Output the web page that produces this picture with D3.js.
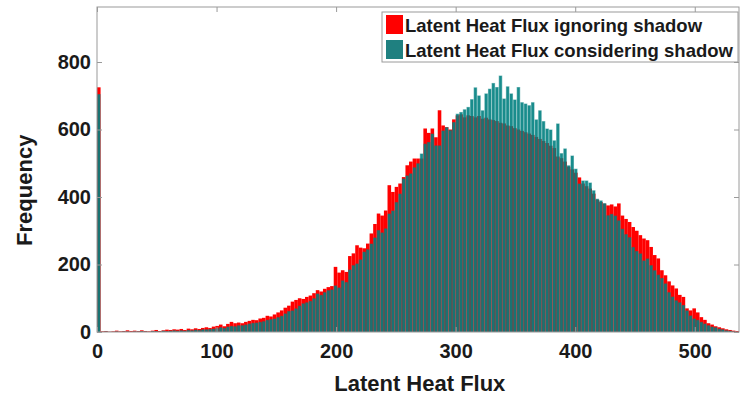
<!DOCTYPE html>
<html>
<head>
<meta charset="utf-8">
<script src="https://cdn.jsdelivr.net/npm/d3@7"></script>
<style>
  body { margin: 0; background: #fff; }
  text { font-family: "Liberation Sans", Arial, sans-serif; font-weight: bold; fill: #1a1a1a; }
</style>
</head>
<body>
<svg id="chart" width="751" height="399"></svg>
<script>
// histogram bins, 3 units wide starting at 0
const binWidth = 3;
const ignoringShadow = [
  725, 2, 3, 1, 2, 4, 2, 3, 5, 3,
  4, 3, 5, 3, 2, 4, 6, 3, 5, 7,
  6, 8, 7, 9, 6, 10, 8, 11, 9, 12,
  14, 12, 16, 18, 22, 17, 24, 30, 26, 28,
  26, 30, 33, 36, 35, 40, 42, 48, 46, 52,
  58, 64, 72, 78, 90, 95, 100, 98, 104, 108,
  115, 124, 120, 128, 133, 136, 193, 176, 183, 178,
  225, 233, 257, 250, 248, 262, 292, 320, 351, 345,
  360, 435, 415, 430, 440, 459, 494, 505, 514, 514,
  514, 603, 590, 603, 577, 657, 612, 607, 600, 630,
  642, 645, 636, 642, 640, 636, 640, 632, 635, 630,
  628, 625, 620, 618, 612, 610, 604, 600, 596, 592,
  588, 584, 578, 572, 566, 560, 552, 545, 520, 515,
  505, 490, 482, 472, 458, 440, 432, 425, 410, 392,
  385, 380, 375, 378, 372, 381, 345, 335, 326, 311,
  300, 287, 277, 272, 252, 228, 218, 183, 168, 150,
  138, 129, 110, 104, 70, 64, 70, 58, 44, 36,
  26, 22, 17, 14, 11, 8, 6, 4, 3
];
const consideringShadow = [
  705, 1, 2, 1, 1, 2, 1, 2, 2, 1,
  2, 2, 3, 2, 1, 3, 3, 2, 4, 3,
  4, 5, 4, 5, 4, 6, 5, 7, 6, 8,
  8, 9, 10, 11, 14, 12, 16, 18, 17, 20,
  20, 22, 25, 27, 28, 30, 32, 36, 38, 40,
  44, 48, 55, 62, 64, 70, 78, 85, 88, 92,
  100, 114, 110, 118, 124, 126, 138, 132, 153, 148,
  185, 198, 203, 215, 238, 245, 262, 280, 302, 295,
  307, 351, 360, 385, 410, 455, 464, 470, 488, 500,
  529, 558, 563, 588, 553, 553, 597, 607, 598, 622,
  647, 652, 660, 667, 690, 725, 701, 657, 707, 721,
  738, 726, 760, 692, 728, 707, 689, 726, 681, 677,
  672, 681, 630, 657, 625, 603, 600, 568, 618, 530,
  544, 494, 523, 484, 440, 449, 449, 443, 420, 395,
  390, 382, 346, 350, 345, 331, 306, 290, 281, 252,
  240, 233, 212, 218, 198, 183, 170, 160, 144, 118,
  105, 94, 88, 80, 64, 49, 40, 36, 30, 25,
  20, 16, 14, 10, 8, 5, 4, 2, 1
];
const seriesNames = ["Latent Heat Flux ignoring shadow", "Latent Heat Flux considering shadow"];
const xTicks = [0, 100, 200, 300, 400, 500];
const yTicks = [0, 200, 400, 600, 800];

const width = 751, height = 399;
const margin = { left: 97, right: 12, top: 7, bottom: 67 };
const innerW = width - margin.left - margin.right;
const innerH = height - margin.top - margin.bottom;

const red = "#ff0000";
const teal = "#008080";

const svg = d3.select("#chart");
const g = svg.append("g").attr("transform", `translate(${margin.left},${margin.top})`);

const x = d3.scaleLinear().domain([0, 537]).range([0, innerW]);
const y = d3.scaleLinear().domain([0, 963]).range([innerH, 0]);

svg.append("defs").append("clipPath").attr("id", "plot")
  .append("rect").attr("width", innerW).attr("height", innerH);

const bars = g.append("g").attr("clip-path", "url(#plot)");
const bw = x(binWidth) - x(0);

bars.selectAll("rect.red")
  .data(ignoringShadow)
  .join("rect")
  .attr("class", "red")
  .attr("x", (d, i) => x(i * binWidth))
  .attr("width", bw)
  .attr("y", d => y(d))
  .attr("height", d => y(0) - y(d))
  .attr("fill", red);

// teal bars are semi transparent: a faint full-width layer (edges)
// and a denser inner body, so red shows through darkly
bars.selectAll("rect.tealEdge")
  .data(consideringShadow)
  .join("rect")
  .attr("class", "tealEdge")
  .attr("x", (d, i) => x(i * binWidth))
  .attr("width", bw)
  .attr("y", d => y(d))
  .attr("height", d => y(0) - y(d))
  .attr("fill", teal)
  .attr("fill-opacity", 0.5);

bars.selectAll("rect.tealBody")
  .data(consideringShadow)
  .join("rect")
  .attr("class", "tealBody")
  .attr("x", (d, i) => x(i * binWidth) + 0.55)
  .attr("width", bw - 1.1)
  .attr("y", d => y(d) + 0.5)
  .attr("height", d => Math.max(0, y(0) - y(d) - 0.5))
  .attr("fill", teal)
  .attr("fill-opacity", 0.8);

// box with inward ticks on every side
const axisColor = "#9a9a9a";
g.append("rect").attr("width", innerW).attr("height", innerH)
  .attr("fill", "none").attr("stroke", axisColor).attr("stroke-width", 1);

const tickLen = 5;
const xb = g.append("g").attr("transform", `translate(0,${innerH})`)
  .call(d3.axisBottom(x).tickValues(xTicks).tickSizeInner(-tickLen).tickSizeOuter(0).tickPadding(12));
const xt = g.append("g")
  .call(d3.axisTop(x).tickValues(xTicks).tickSizeInner(-tickLen).tickSizeOuter(0).tickFormat(""));
const yl = g.append("g")
  .call(d3.axisLeft(y).tickValues(yTicks).tickSizeInner(-tickLen).tickSizeOuter(0).tickPadding(6));
const yr = g.append("g").attr("transform", `translate(${innerW},0)`)
  .call(d3.axisRight(y).tickValues(yTicks).tickSizeInner(-tickLen).tickSizeOuter(0).tickFormat(""));

[xb, xt, yl, yr].forEach(a => {
  a.select(".domain").remove();
  a.selectAll(".tick line").attr("stroke", axisColor);
  a.selectAll("text").attr("font-size", 20).attr("fill", "#1a1a1a")
    .style("font-family", '"Liberation Sans", Arial, sans-serif').style("font-weight", "bold");
});

// axis titles
svg.append("text")
  .attr("x", margin.left + x(270)).attr("y", 391)
  .attr("text-anchor", "middle").attr("font-size", 22)
  .text("Latent Heat Flux");

svg.append("text")
  .attr("transform", `translate(32,${margin.top + y(420)}) rotate(-90)`)
  .attr("text-anchor", "middle").attr("font-size", 22)
  .text("Frequency");

// legend
const legend = svg.append("g").attr("transform", "translate(382,12)");
legend.append("rect").attr("width", 356).attr("height", 50)
  .attr("fill", "#fff").attr("stroke", axisColor);
[red, "#1f8080"].forEach((c, i) => {
  legend.append("rect").attr("x", 4).attr("y", 3 + i * 25).attr("width", 17).attr("height", 19).attr("fill", c);
  legend.append("text").attr("x", 23).attr("y", 20 + i * 25).attr("font-size", 18.5).text(seriesNames[i]);
});
</script>
</body>
</html>
